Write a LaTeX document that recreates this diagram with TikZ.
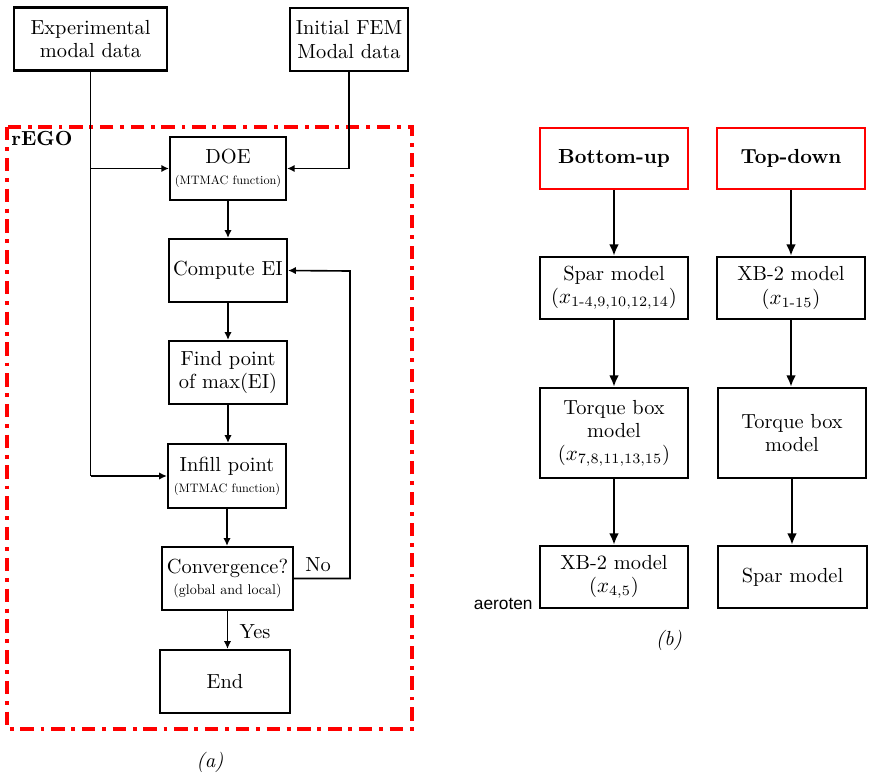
\documentclass[tikz,border=0pt]{standalone}
\usepackage{fontspec}
\usepackage{amsmath}
\newfontfamily\arialfont{Liberation Sans}
\usetikzlibrary{arrows.meta}
\newcommand{\smalltxt}[2][0.6]{\scalebox{#1}{#2}}
\begin{document}
\begin{tikzpicture}[x=0.52pt,y=-0.52pt,
  every node/.style={font=\fontsize{10.6}{12}\selectfont},
  box/.style={draw,line width=1.1pt,align=center,inner sep=0pt,minimum height=32.8pt},
  rbox/.style={box,draw=red,line width=0.9pt,font=\fontsize{10.6}{12}\selectfont\bfseries},
  bbox/.style={box,line width=1.1pt},
  arr/.style={line width=0.85pt,-{Latex[length=4pt,width=3.8pt]}},
  ln/.style={line width=0.85pt},
  barr/.style={line width=1.5pt,-{Latex[length=6pt,width=5pt]}}]
\useasboundingbox (0,0) rectangle (874,779);
% frame
\draw[red,line width=1.6pt,dash pattern=on 7pt off 3.5pt on 2pt off 3.5pt] (7,127) rectangle (412,729);
\node[anchor=north west,font=\fontsize{10.6}{12}\selectfont\bfseries,inner sep=0pt] (rego) at (11,131) {rEGO};
% left flowchart
\node[box,minimum width=79.6pt] (exp) at (90.5,39) {Experimental\\modal data};
\node[box,minimum width=61.4pt] (fem) at (349,39.5) {Initial FEM\\Modal data};
\node[box,minimum width=60.3pt] (doe) at (228,168.5) {DOE\\[-1pt]\smalltxt{(MTMAC function)}};
\node[box,minimum width=61.4pt] (cei) at (228,270.5) {Compute EI};
\node[box,minimum width=61.4pt] (find) at (228,372.5) {Find point\\of max(EI)};
\node[box,minimum width=61.4pt,minimum height=33.3pt] (inf) at (227,476) {Infill point\\[-1pt]\smalltxt{(MTMAC function)}};
\node[box,minimum width=68.1pt] (conv) at (227.5,578.5) {Convergence?\\[-1pt]\smalltxt[0.69]{(global and local)}};
\node[box,minimum width=67.6pt] (end) at (225,681.5) {End};
\draw[ln] (exp.south) -- (exp.south |- inf.west);
\draw[arr] (exp.south |- inf.west) -- (inf.west);
\draw[arr] (exp.south |- doe.west) -- (doe.west);
\draw[arr] (fem.south) |- (doe.east);
\draw[arr] (doe) -- (cei);
\draw[arr] (cei) -- (find);
\draw[arr] (find.south) -- (find.south |- inf.north);
\draw[arr] (inf) -- (inf |- conv.north);
\draw[arr] (conv.south) -- (conv.south |- end.north);
\coordinate (fb) at (350,271);
\draw[arr] (conv.east) -| (fb) -- (cei.east);
\node (no) at (318,565) {No};
\node (yes) at (255,632) {Yes};
\node[font=\fontsize{10.6}{12}\selectfont\itshape] (la) at (210,762) {(a)};
% right part
\node[rbox,minimum width=77pt,minimum height=31.7pt] (bu) at (614,158.5) {Bottom-up};
\node[rbox,minimum width=77pt,minimum height=31.7pt] (td) at (791,158.5) {Top-down};
\node[bbox,minimum width=77pt,minimum height=32.2pt] (spar) at (614,288) {Spar model\\($x_{\text{1-4,9,10,12,14}}$)};
\node[bbox,minimum width=77pt,minimum height=32.2pt] (xbr) at (791,288) {XB-2 model\\($x_{\text{1-15}}$)};
\node[bbox,minimum width=77pt,minimum height=46.8pt] (tql) at (614,433) {Torque box\\model\\($x_{\text{7,8,11,13,15}}$)};
\node[bbox,minimum width=77pt,minimum height=46.8pt] (tqr) at (792,433) {Torque box\\model};
\node[bbox,minimum width=77pt,minimum height=32.2pt] (xbl) at (614,577) {XB-2 model\\($x_{\text{4,5}}$)};
\node[bbox,minimum width=77.5pt,minimum height=32.2pt] (sparr) at (792.5,577) {Spar model};
\draw[barr] (bu) -- (spar);
\draw[barr] (spar) -- (tql);
\draw[barr] (tql) -- (xbl);
\draw[barr] (td) -- (xbr);
\draw[barr] (xbr) -- (xbr |- tqr.north);
\draw[barr] (tqr.south) -- (tqr.south |- sparr.north);
\node[font=\arialfont\fontsize{9}{10}\selectfont,anchor=east,inner sep=0pt] (aer) at (533,604) {aeroten};
\node[font=\fontsize{10.6}{12}\selectfont\itshape] (lb) at (669,640) {(b)};
\end{tikzpicture}
\end{document}
